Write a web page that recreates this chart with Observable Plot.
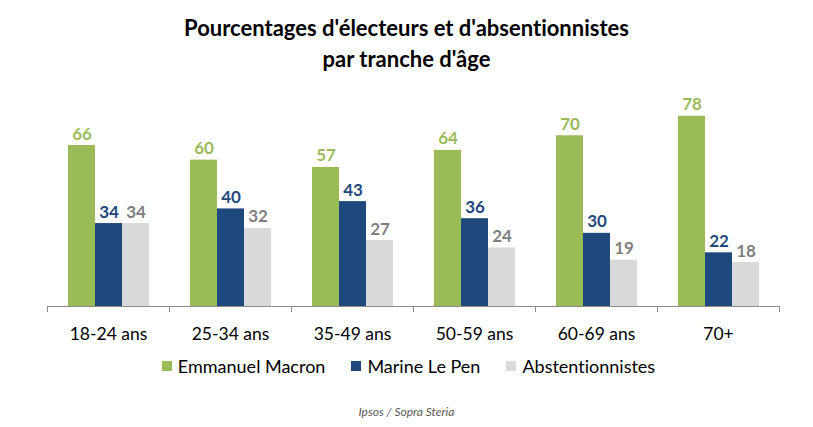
<!DOCTYPE html>
<html>
<head>
<meta charset="utf-8">
<script src="https://cdn.jsdelivr.net/npm/d3@7"></script>
<script src="https://cdn.jsdelivr.net/npm/@observablehq/plot@0.6"></script>
<style>
  html, body { margin: 0; padding: 0; background: #fff; }
  body { width: 813px; height: 427px; font-family: Lato, "Open Sans", sans-serif; overflow: hidden; font-variant-ligatures: none; font-feature-settings: "liga" 0, "clig" 0; }
  svg text { font-variant-ligatures: none; }
  #title { height: 85px; box-sizing: border-box; padding-top: 12px; text-align: center; font-weight: bold; font-size: 22px; line-height: 31px; color: #000; }
  #legend { display: flex; justify-content: center; gap: 26px; font-size: 18px; color: #000; margin-top: 3px; height: 26px; align-items: center; padding-left: 4px; }
  #legend span.item { display: flex; align-items: center; }
  #legend span.sw { display: inline-block; width: 10px; height: 10px; margin-right: 6px; }
  #caption { text-align: center; font-style: italic; font-size: 12px; color: #595959; margin-top: 25px; }
</style>
</head>
<body>
<div id="title">Pourcentages d'électeurs et d'absentionnistes<br>par tranche d'âge</div>
<div id="chart"></div>
<div id="legend"></div>
<div id="caption">Ipsos / Sopra Steria</div>
<script>
const ageGroups = ["18-24 ans", "25-34 ans", "35-49 ans", "50-59 ans", "60-69 ans", "70+"];
const seriesNames = ["Emmanuel Macron", "Marine Le Pen", "Abstentionnistes"];
const macron = [66, 60, 57, 64, 70, 78];
const lepen = [34, 40, 43, 36, 30, 22];
const abstention = [34, 32, 27, 24, 19, 18];
const barColors = ["#9BBB59", "#1F497D", "#D9D9D9"];
const labelColors = ["#9BBB59", "#1F497D", "#7F7F7F"];

const seriesValues = [macron, lepen, abstention];
const data = [];
ageGroups.forEach((age, i) => {
  seriesNames.forEach((s, j) => {
    data.push({age, series: s, value: seriesValues[j][i], labelColor: labelColors[j]});
  });
});

const chart = Plot.plot({
  width: 813,
  height: 265,
  marginLeft: 47,
  marginRight: 34,
  marginTop: 0,
  marginBottom: 44,
  style: {fontFamily: "Lato, 'Open Sans', sans-serif", background: "#fff"},
  fx: {domain: ageGroups, padding: 0, label: null},
  x: {domain: seriesNames, paddingInner: 0, paddingOuter: 0.74, axis: null},
  y: {domain: [0, 90.6], axis: null},
  color: {domain: seriesNames, range: barColors},
  marks: [
    Plot.barY(data, {fx: "age", x: "series", y: "value", fill: "series"}),
    Plot.text(data, {fx: "age", x: "series", y: "value", text: d => String(d.value), fill: "labelColor", lineAnchor: "bottom", dy: -6, fontSize: 17, fontWeight: "bold"}),
    Plot.ruleY([0], {stroke: "#8c8c8c", strokeWidth: 1}),
    Plot.axisFx({tickSize: 0, tickPadding: 21, fontSize: 17.5, fill: "#000", label: null, anchor: "bottom"})
  ]
});
document.getElementById("chart").appendChild(chart);

// group boundary ticks from the fx scale
const fx = chart.scale("fx");
const yScale = chart.scale("y");
const svg = d3.select(chart);
const y0 = yScale.apply(0);
const bounds = ageGroups.map(a => fx.apply(a)).concat([fx.apply(ageGroups[ageGroups.length - 1]) + fx.bandwidth]);
svg.append("g").selectAll("line").data(bounds).join("line")
  .attr("x1", d => d + 0.5).attr("x2", d => d + 0.5)
  .attr("y1", y0).attr("y2", y0 + 6)
  .attr("stroke", "#8c8c8c");

const legend = d3.select("#legend");
seriesNames.forEach((s, i) => {
  const item = legend.append("span").attr("class", "item");
  item.append("span").attr("class", "sw").style("background", barColors[i]);
  item.append("span").text(s);
});
</script>
</body>
</html>
